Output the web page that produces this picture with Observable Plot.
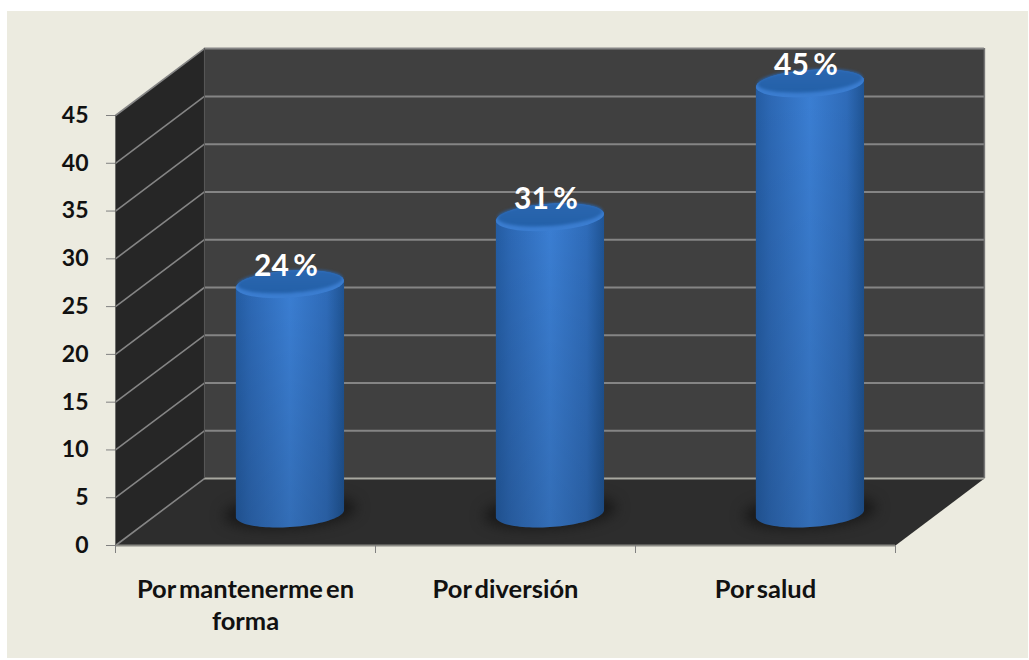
<!DOCTYPE html>
<html lang="es">
<head>
<meta charset="utf-8">
<title>Motivos</title>
<script src="https://cdn.jsdelivr.net/npm/d3@7"></script>
<script src="https://cdn.jsdelivr.net/npm/@observablehq/plot@0.6"></script>
<style>
  html, body { margin: 0; background: #fff; }
  #panel { position: absolute; left: 7px; top: 11px; width: 1021px; height: 647px; background: #ecebe0; }
  #chart { position: absolute; left: 0; top: 0; }
  #chart text { word-spacing: -3px; }
</style>
</head>
<body>
<div id="panel"></div>
<div id="chart"></div>
<script>
// Reasons given, as percentages
const categories = ["Por mantenerme en\nforma", "Por diversión", "Por salud"];
const values = [24, 31, 45];
const yTicks = [0, 5, 10, 15, 20, 25, 30, 35, 40, 45];
const xEdges = [0, 1, 2, 3];

// Oblique projection of the box, expressed in scale units
const depthX = 0.342;
const depthY = 7;

// Cylinder cross-section, expressed in scale units
const radiusX = 0.208;
const radiusY = 1.42;
const tilt = 0.36;
const midDepthY = 3.35;

const font = "Lato, 'Open Sans', sans-serif";

const angles = (from, to, n = 48) => d3.range(n + 1).map((k) => from + (to - from) * k / n);
const rim = (i, level, t, rx = radiusX, ry = radiusY) => ({
  i,
  x: i + 0.5 + depthX / 2 + rx * Math.cos(t),
  y: level + ry * Math.sin(t) + tilt * (rx / radiusX) * Math.cos(t)
});

// Outline of each cylinder's side: lower half of the base, then upper half of the top
const sides = values.flatMap((v, i) => [
  ...angles(Math.PI, 2 * Math.PI).map((t) => rim(i, midDepthY, t)),
  ...angles(0, Math.PI).map((t) => rim(i, v + midDepthY, t))
]);
const tops = values.flatMap((v, i) =>
  angles(0, 2 * Math.PI).map((t) => rim(i, v + midDepthY, t)));
const topFaces = values.flatMap((v, i) =>
  angles(0, 2 * Math.PI).map((t) => rim(i, v + midDepthY + 0.28, t, radiusX * 0.97, radiusY * 0.84)));
const shadows = values.flatMap((v, i) =>
  angles(0, 2 * Math.PI).map((t) => rim(i, midDepthY + 0.2, t, radiusX * 1.22, radiusY * 1.15)));

// Box faces as closed outlines
const leftWall = [[0, 0], [depthX, depthY], [depthX, 45 + depthY], [0, 45]];
const backWall = [[depthX, depthY], [3 + depthX, depthY], [3 + depthX, 45 + depthY], [depthX, 45 + depthY]];
const floor = [[0, 0], [3, 0], [3 + depthX, depthY], [depthX, depthY]];
const face = (points, fill) => Plot.line(points, {x: "0", y: "1", fill, stroke: "none"});

// Gradients shared by the cylinders
const gradients = () => {
  const g = d3.create("svg:g");
  const defs = g.append("defs");
  const add = (id, stops, horizontal) => {
    const lg = defs.append("linearGradient").attr("id", id)
      .attr("x1", 0).attr("y1", 0).attr("x2", horizontal ? 1 : 0).attr("y2", horizontal ? 0 : 1);
    stops.forEach(([o, c, a = 1]) =>
      lg.append("stop").attr("offset", o).attr("stop-color", c).attr("stop-opacity", a));
  };
  add("cyl-side", [[0, "#245da4"], [0.14, "#2d69b6"], [0.5, "#3b7fd4"], [0.84, "#2f6cba"], [1, "#1f5494"]], true);
  add("cyl-shade", [[0, "#000", 0], [1, "#000", 0.14]], false);
  add("cyl-top", [[0, "#2a66b0"], [1, "#2360a8"]], false);
  return g.node();
};

const chart = Plot.plot({
  width: 1029,
  height: 660,
  marginLeft: 115,
  marginRight: 134,
  marginTop: 115,
  marginBottom: 115,
  style: {background: "transparent", fontFamily: font, fontWeight: "bold"},
  x: {type: "linear", domain: [0, 3], axis: null},
  y: {type: "linear", domain: [0, 45], axis: null},
  marks: [
    gradients,
    face(leftWall, "#262626"),
    face(backWall, "#404040"),
    face(floor, "#2d2d2d"),

    // Grid on the back wall and across the side wall
    Plot.ruleY(yTicks, {x1: depthX, x2: 3 + depthX, y: (d) => d + depthY, stroke: (d) => d === 0 ? "#a8a8a0" : "#858585", strokeWidth: 2}),
    Plot.link(yTicks, {x1: 0, y1: (d) => d, x2: depthX, y2: (d) => d + depthY, stroke: "#858585", strokeWidth: 1.6}),
    Plot.ruleX([depthX], {y1: depthY, y2: 45 + depthY, stroke: "#555", strokeWidth: 1}),
    Plot.ruleX([3 + depthX], {y1: depthY, y2: 45 + depthY, stroke: "#777", strokeWidth: 1.5}),
    Plot.ruleY([0], {x1: 0, x2: 3, stroke: "#8a8a84", strokeWidth: 2}),
    Plot.ruleX([0], {y1: 0, y2: 45, stroke: "#6b6b68", strokeWidth: 1}),

    // Floor shadows under each cylinder
    Plot.line(shadows, {x: "x", y: "y", z: "i", fill: "#161616", stroke: "none", imageFilter: "blur(7px)"}),

    // Cylinders
    Plot.line(sides, {x: "x", y: "y", z: "i", fill: "url(#cyl-side)", stroke: "none"}),
    Plot.line(sides, {x: "x", y: "y", z: "i", fill: "url(#cyl-shade)", stroke: "none"}),
    Plot.line(tops, {x: "x", y: "y", z: "i", fill: "#3b7dd0", stroke: "none"}),
    Plot.line(topFaces, {x: "x", y: "y", z: "i", fill: "url(#cyl-top)", stroke: "none", imageFilter: "blur(1.5px)"}),

    // Axes
    Plot.axisY({ticks: yTicks, tickSize: 9, tickPadding: 18, label: null, stroke: "#808080", fill: "#111", fontSize: 23}),
    Plot.axisX({ticks: xEdges, tickSize: 8, tickFormat: () => "", label: null, stroke: "#808080"}),

    // Category labels beneath the front edge
    Plot.text(categories, {
      x: (d, i) => i + 0.5,
      y: 0,
      text: (d) => d,
      dy: 30,
      lineAnchor: "top",
      lineHeight: 1.26,
      fontSize: 25.5,
      fontWeight: "bold",
      fill: "#111"
    }),

    // Value labels above each cylinder
    Plot.text(values, {
      x: (d, i) => i + 0.5 + depthX / 2,
      y: (d) => d + midDepthY + 1.9,
      text: (d) => `${d} %`,
      dx: -4,
      fontSize: 30,
      fontWeight: "bold",
      fill: "#fff"
    })
  ]
});

document.getElementById("chart").append(chart);
</script>
</body>
</html>
